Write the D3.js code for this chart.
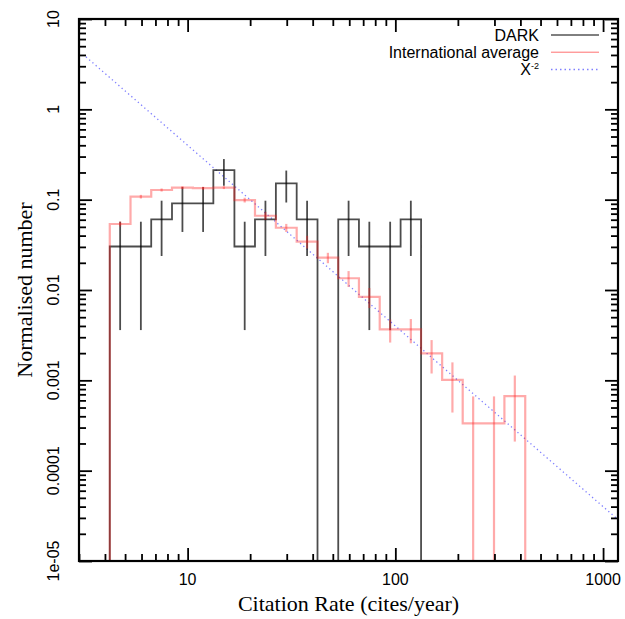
<!DOCTYPE html>
<html>
<head>
<meta charset="utf-8">
<script src="https://cdn.jsdelivr.net/npm/d3@7"></script>
<style>
body { margin: 0; background: #fff; }
text { font-family: "Liberation Sans", Arial, sans-serif; }
.title { font-family: "Liberation Serif", "Times New Roman", serif; font-size: 22px; }
</style>
</head>
<body>
<svg width="625" height="619"></svg>
<script>
// bin edges (cites/year), 0.1 dex wide
const binEdges = [4.22, 5.31, 6.68, 8.41, 10.6, 13.3, 16.8, 21.1, 26.6, 33.5, 42.2,
    53.1, 66.8, 84.1, 106, 133, 168, 211, 266, 335, 422];

// DARK histogram (first 15 bins)
const darkVals = [0.0303, 0.0303, 0.0606, 0.0909, 0.0909, 0.2121, 0.0303, 0.0606,
    0.1515, 0.0606, 0, 0.0606, 0.0303, 0.0303, 0.0606];
const darkErr = [0.0267, 0.0267, 0.0368, 0.047, 0.047, 0.0695, 0.0267, 0.0368,
    0.0585, 0.0368, 0, 0.0368, 0.0267, 0.0267, 0.0368];

// International average (20 bins)
const intlVals = [0.0538, 0.108, 0.128, 0.136, 0.134, 0.136, 0.099, 0.0664, 0.0489,
    0.0343, 0.0228, 0.0135, 0.00841, 0.00367, 0.00367, 0.00199, 0.00101, 0.000334,
    0.000334, 0.00067];
const intlErr = [0.0035, 0.005, 0.005, 0.005, 0.005, 0.005, 0.006, 0.0068, 0.005,
    0.0055, 0.003, 0.0027, 0.0021, 0.00105, 0.0011, 0.0008, 0.00057, 0.00033,
    0.00033, 0.00046];

// X^-2 reference line
const powA = 40;
const powIndex = -2;
const powRange = [3.24, 1180];

const xTickVals = [10, 100, 1000];
const xTickLabels = ['10', '100', '1000'];
const yTickVals = [1e-5, 1e-4, 1e-3, 1e-2, 0.1, 1, 10];
const yTickLabels = ['1e-05', '0.0001', '0.001', '0.01', '0.1', '1', '10'];

const legendNames = ['DARK', 'International average', 'X'];

const svg = d3.select('svg');
const pl = 79, pr = 618, pt = 19, pb = 561;
const FLOOR = 1e-7;

const x = d3.scaleLog().domain([3, 1180]).range([pl, pr]);
const y = d3.scaleLog().domain([1e-5, 10]).range([pb, pt]);

svg.append('clipPath').attr('id', 'clip')
.append('rect')
.attr('x', pl).attr('y', pt)
.attr('width', pr - pl).attr('height', pb - pt);

const plot = svg.append('g').attr('clip-path', 'url(#clip)');

function stepPath(vals) {
    let p = 'M' + x(binEdges[0]) + ',' + y(FLOOR);
    vals.forEach((v, i) => {
        const yy = y(Math.max(v, FLOOR));
        p += 'L' + x(binEdges[i]) + ',' + yy + 'L' + x(binEdges[i + 1]) + ',' + yy;
    });
    p += 'L' + x(binEdges[vals.length]) + ',' + y(FLOOR);
    return p;
}

function errBars(vals, errs, color, width, opacity) {
    plot.append('g')
    .selectAll('line')
    .data(vals.map((v, i) => ({v: v, e: errs[i], i: i})).filter(d => d.v > 0))
    .enter().append('line')
    .attr('x1', d => x(Math.sqrt(binEdges[d.i] * binEdges[d.i + 1])))
    .attr('x2', d => x(Math.sqrt(binEdges[d.i] * binEdges[d.i + 1])))
    .attr('y1', d => y(d.v + d.e))
    .attr('y2', d => y(Math.max(d.v - d.e, FLOOR)))
    .attr('stroke', color)
    .attr('stroke-width', width)
    .attr('stroke-opacity', opacity);
}

// reference power law
const powLine = d3.line().x(d => x(d)).y(d => y(powA * Math.pow(d, powIndex)));
plot.append('path')
.attr('d', powLine(powRange))
.attr('fill', 'none')
.attr('stroke', '#7f7fff')
.attr('stroke-width', 1.3)
.attr('stroke-dasharray', '1.3,3');

// DARK
plot.append('path')
.attr('d', stepPath(darkVals))
.attr('fill', 'none')
.attr('stroke', '#000')
.attr('stroke-opacity', 0.7)
.attr('stroke-width', 1.8);
errBars(darkVals, darkErr, '#000', 1.8, 0.7);

// International average
plot.append('path')
.attr('d', stepPath(intlVals))
.attr('fill', 'none')
.attr('stroke', '#ff2020')
.attr('stroke-opacity', 0.38)
.attr('stroke-width', 2.2);
errBars(intlVals, intlErr, '#ff2020', 2.2, 0.38);

// axes with inward ticks on all four sides
function isMajor(d) {
    return Math.abs(Math.log10(d) - Math.round(Math.log10(d))) < 1e-6;
}

function drawAxis(axis, tx, ty, sign, horiz) {
    const g = svg.append('g')
    .attr('transform', 'translate(' + tx + ',' + ty + ')')
    .call(axis.tickSize(7 * sign).tickFormat(''));
    g.select('.domain').remove();
    g.selectAll('.tick line')
    .attr('stroke', '#000')
    .attr('stroke-width', 1.8)
    .attr(horiz ? 'y2' : 'x2', d => (isMajor(d) ? 13 : 7) * sign);
}

drawAxis(d3.axisBottom(x), 0, pb, -1, true);
drawAxis(d3.axisTop(x), 0, pt, 1, true);
drawAxis(d3.axisLeft(y), pl, 0, 1, false);
drawAxis(d3.axisRight(y), pr, 0, -1, false);

svg.append('rect')
.attr('x', pl).attr('y', pt)
.attr('width', pr - pl).attr('height', pb - pt)
.attr('fill', 'none')
.attr('stroke', '#000')
.attr('stroke-width', 2.2);

// tick labels
svg.append('g')
.selectAll('text')
.data(xTickVals)
.enter().append('text')
.attr('x', d => x(d))
.attr('y', 585)
.attr('text-anchor', 'middle')
.attr('font-size', 16)
.text((d, i) => xTickLabels[i]);

svg.append('g')
.selectAll('text')
.data(yTickVals)
.enter().append('text')
.attr('transform', d => 'translate(59,' + y(d) + ') rotate(-90)')
.attr('text-anchor', 'middle')
.attr('font-size', 16)
.text((d, i) => yTickLabels[i]);

// axis titles
svg.append('text')
.attr('class', 'title')
.attr('x', (pl + pr) / 2)
.attr('y', 611)
.attr('text-anchor', 'middle')
.text('Citation Rate (cites/year)');

svg.append('text')
.attr('class', 'title')
.attr('transform', 'translate(32,' + (pt + pb) / 2 + ') rotate(-90)')
.attr('text-anchor', 'middle')
.text('Normalised number');

// legend
const legendStyles = [
    {stroke: '#000', dash: null, width: 1},
    {stroke: '#ff7070', dash: null, width: 1},
    {stroke: '#7f7fff', dash: '1.5,3', width: 1.5}
];
const legend = svg.append('g');
legendNames.forEach((name, i) => {
    const ly = 35 + i * 17.2;
    const t = legend.append('text')
    .attr('x', 539)
    .attr('y', ly + 6)
    .attr('text-anchor', 'end')
    .attr('font-size', 16)
    .text(name);
    if (i === 2) {
        t.append('tspan')
        .attr('font-size', 9)
        .attr('dy', -6)
        .text('-2');
    }
    legend.append('line')
    .attr('x1', 551).attr('x2', 599)
    .attr('y1', ly).attr('y2', ly)
    .attr('stroke', legendStyles[i].stroke)
    .attr('stroke-width', legendStyles[i].width)
    .attr('stroke-dasharray', legendStyles[i].dash);
});
</script>
</body>
</html>
